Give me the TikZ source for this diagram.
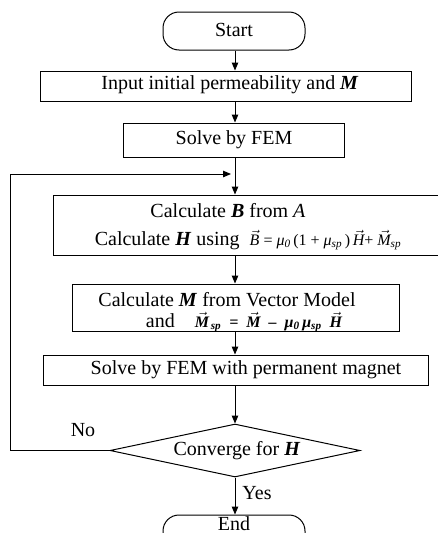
\documentclass[tikz,border=0pt]{standalone}
\usepackage{fontspec}
\setmainfont{Liberation Serif}
\usetikzlibrary{arrows.meta,shapes.geometric}
\newcommand{\bi}[1]{\textbf{\textit{#1}}}
\newcommand{\vv}[1]{\ensuremath{\vec{\hbox{\itshape #1}}}}
\newcommand{\bvv}[1]{\ensuremath{\vec{\hbox{\bfseries\itshape #1}}}}
\tikzset{
  box/.style={draw, line width=1pt, inner sep=0pt, rectangle},
  term/.style={draw, line width=1pt, inner sep=0pt, rounded corners=16pt},
  dec/.style={draw, line width=1pt, inner sep=0pt, diamond, minimum width=250pt, minimum height=53pt},
  txt/.style={inner sep=0pt, font=\fontsize{20}{24}\selectfont},
  arr/.style={line width=1pt, -{Triangle[length=8pt,width=6.5pt]}},
  ln/.style={line width=1pt}
}
\begin{document}
\begin{tikzpicture}[x=1pt,y=-1pt]
\useasboundingbox (0,0) rectangle (438,533);
\clip (0,0) rectangle (438,533);
% shapes
\node[term, minimum width=142pt, minimum height=38pt] (start) at (234,31) {};
\node[box, minimum width=371pt, minimum height=30pt] (input) at (225.5,86) {};
\node[box, minimum width=221pt, minimum height=34pt] (solve) at (233.5,140) {};
\node[box, minimum width=392pt, minimum height=60pt] (calcB) at (249,225) {};
\node[box, minimum width=327pt, minimum height=47pt] (calcM) at (235.5,307.5) {};
\node[box, minimum width=385pt, minimum height=30pt] (solvePM) at (235.5,370) {};
\node[dec] (dia) at (235,450.5) {};
\node[term, minimum width=142pt, minimum height=38pt] (end) at (234,534) {};
% texts
\node[txt] (tstart) at (234,30) {Start};
\node[txt] (tinput) at (230,85) {Input initial permeability and \bi{M}};
\node[txt] (tsolve) at (234,140) {Solve by FEM};
\node[txt] (tcb1) at (228,211) {Calculate \bi{B} from \textit{A}};
\node[txt] (tcb2) at (248,240) {Calculate \bi{H} using\enspace{\fontsize{16}{20}\selectfont\vv{B} = \textit{μ}\textsubscript{\textit{0}}\,(1 + \textit{μ}\textsubscript{\textit{sp}}\,)\,\vv{H}+ \vv{M}\textsubscript{\textit{sp}}}};
\node[txt] (tcm1) at (227,300) {Calculate \bi{M} from Vector Model};
\node[txt] (tcm2) at (244,322) {and\quad{\fontsize{16}{20}\selectfont\bfseries\itshape \bvv{M}\textsubscript{\,sp}\enspace=\enspace\bvv{M}\enspace--\enspace μ\textsubscript{0}\,μ\textsubscript{sp}\enspace\bvv{H}}};
\node[txt] (tspm) at (246,370) {Solve by FEM with permanent magnet};
\node[txt] (tdia) at (237,451) {Converge for \bi{H}};
\node[txt] (tno) at (83,430) {No};
\node[txt] (tyes) at (257,493) {Yes};
\node[txt] (tend) at (234,524) {End};
% connectors
\coordinate (join) at (235,174);
\coordinate (fbTop) at (10,174);
\coordinate (fbBot) at (10,450.5);
\draw[arr] (start.south -| join) -- (input.north -| join);
\draw[arr] (input.south -| join) -- (solve.north -| join);
\draw[arr] (solve.south -| join) -- (calcB.north -| join);
\draw[arr] (calcB.south -| join) -- (calcM.north -| join);
\draw[arr] (calcM.south -| join) -- (solvePM.north -| join);
\draw[arr] (solvePM.south -| join) -- (dia.north);
\draw[arr] (dia.south) -- (end.north -| dia.south);
\draw[ln] (dia.west) -- (fbBot) -- (fbTop);
\draw[arr] (fbTop) -- ([xshift=-4pt]join);
\end{tikzpicture}
\end{document}
